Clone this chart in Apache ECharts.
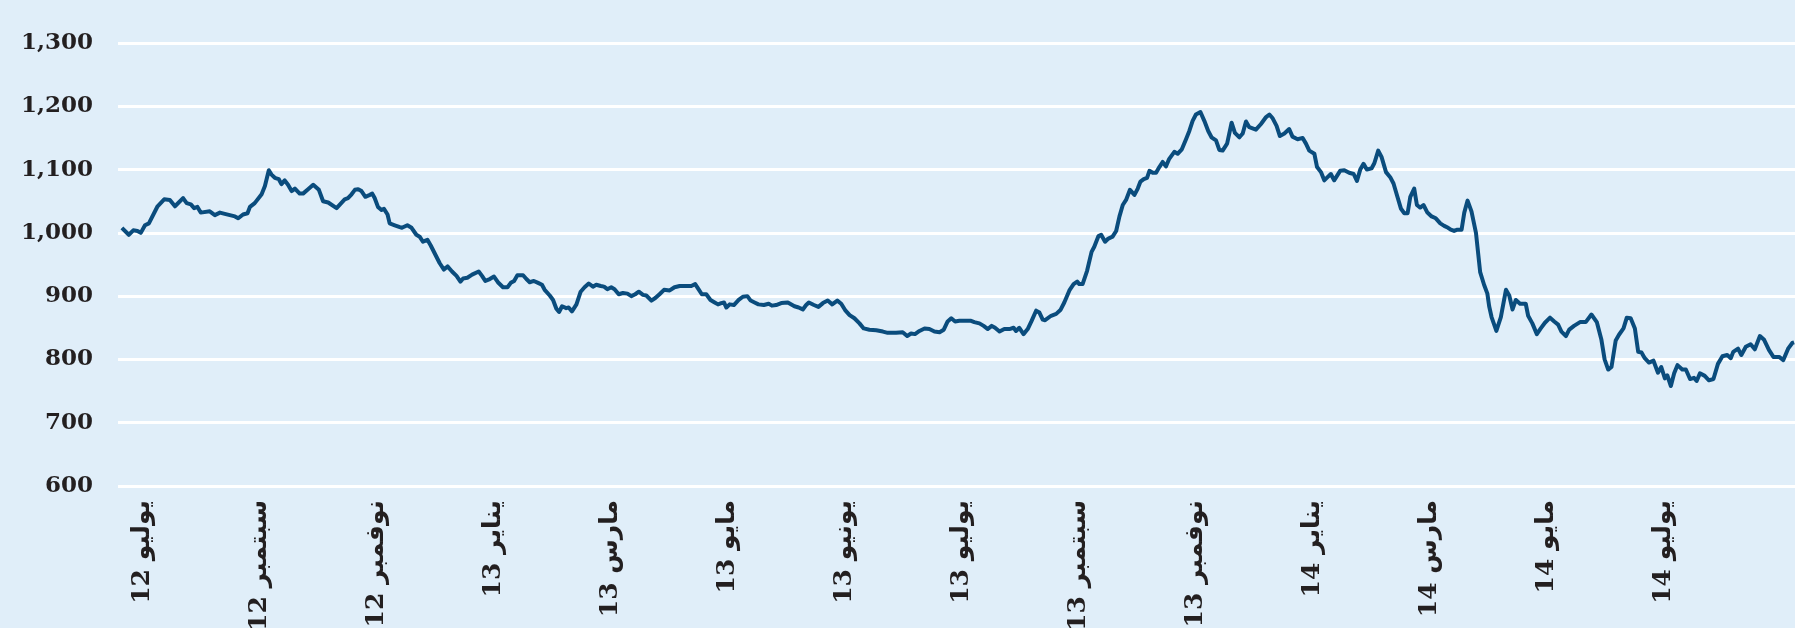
<!DOCTYPE html>
<html lang="ar">
  <head>
    <meta charset="UTF-8" />
    <title>المؤشر</title>
    <script src="https://cdn.jsdelivr.net/npm/echarts@6/dist/echarts.min.js"></script>
    <style>
      html, body { margin: 0; padding: 0; background: #e0eef9; }
    </style>
  </head>
  <body>
    <div id="main" style="width: 1795px; height: 628px"></div>
    <script>
      // trading-day index, index level
      var points = [
        [0,1008],[2.3,997],[3.8,1004],[5.2,1003],[6.3,1000],[7.7,1012],[9.0,1015],[11.9,1042],[14.1,1053],[16.0,1052],
        [17.7,1042],[20.4,1055],[21.6,1047],[23.0,1045],[24.1,1039],[25.2,1041],[26.3,1032],[29.3,1034],[31.0,1028],[32.7,1032],
        [34.3,1030],[36.0,1028],[37.7,1026],[38.8,1023],[40.4,1029],[41.9,1031],[42.7,1041],[44.3,1047],[46.6,1061],[47.7,1074],
        [49.0,1099],[49.9,1092],[51.0,1087],[52.3,1085],[53.2,1077],[54.3,1083],[55.4,1076],[56.6,1066],[57.7,1070],[59.3,1062],
        [60.4,1062],[62.1,1069],[63.8,1076],[65.7,1068],[67.1,1050],[68.8,1048],[71.6,1039],[74.3,1053],[75.4,1055],[76.6,1061],
        [77.7,1068],[78.8,1069],[79.9,1066],[81.2,1057],[82.7,1060],[83.5,1062],[84.3,1055],[85.4,1041],[86.6,1036],[87.4,1038],
        [88.6,1029],[89.3,1015],[91.0,1012],[92.7,1009],
        [93.4,1008],[95.2,1012],[96.6,1008],[98.2,997],[99.3,994],[100.4,986],[101.9,989],[103.0,980],[104.6,965],[106.0,952],
        [107.4,942],[108.6,947],[110.1,939],[111.6,932],[112.9,923],[113.8,928],[115.2,929],[116.8,934],[119.0,939],[120.1,932],
        [121.2,924],[122.7,927],[124.1,931],[125.4,922],[127.1,914],[128.6,914],[129.7,921],[130.8,924],[131.9,933],[133.8,933],
        [134.9,927],[136.0,922],[137.4,924],[138.8,921],[140.1,918],[141.0,910],[142.7,901],[143.8,894],[144.9,880],[145.8,875],
        [146.8,884],[148.2,881],[149.0,882],[150.1,876],[151.6,887],[153.0,907],[154.3,914],[155.7,920],[157.1,915],[158.2,918],
        [159.7,916],[160.8,915],[161.9,911],[163.2,914],[164.3,911],[165.7,903],[167.1,905],[168.6,904],[169.9,900],[171.2,903],
        [172.4,907],[173.8,902],[174.9,901],[176.6,893],[177.9,897],[179.3,903],[180.8,910],[182.7,909],[184.3,914],[186.0,916],
        [187.7,916],[189.9,916],[191.2,919],[192.3,911],[193.4,903],[194.9,903],[196.3,894],[197.7,890],[198.8,887],[199.9,889],
        [200.8,890],[201.6,882],[202.7,887],[204.1,886],[205.7,894],[207.1,899],[208.6,900],[209.7,893],[211.0,890],[212.3,887],
        [214.1,886],[215.7,888],[216.8,885],[218.2,886],[219.9,889],[222.1,890],[224.3,884],[225.7,882],[227.1,879],[228.2,886],
        [229.1,890],[230.8,886],[232.3,883],[233.8,889],[235.4,893],[236.9,887],[238.6,893],[239.9,888],[241.2,878],[242.7,870],
        [244.3,865],[246.0,857],[247.4,849],[249.3,847],[251.6,846],[253.8,844],[255.4,842],[258.2,842],[260.4,843],[261.9,837],
        [263.2,841],[264.5,840],[266.0,845],[267.7,849],[269.3,848],[271.0,844],[272.7,843],[274.1,847],[275.4,860],[276.6,865],
        [277.9,860],[279.3,861],
        [281.0,861],[283.2,861],[284.3,859],[286.0,857],[287.4,853],[288.8,848],[290.1,853],[291.2,850],[292.7,844],[294.3,848],
        [296.0,848],[297.4,850],[298.2,845],[299.3,850],[300.7,840],[302.1,848],[303.4,861],[304.9,877],[306.0,874],[307.1,863],
        [307.9,862],[309.9,869],[311.6,872],[313.0,878],[314.3,890],[316.0,909],[317.4,919],[318.6,923],[319.3,919],[320.4,919],
        [321.9,940],[323.4,970],[324.3,978],[325.7,995],[326.6,997],[327.9,986],[329.0,991],[330.4,994],[331.6,1003],[332.7,1026],
        [333.8,1044],[334.9,1052],[336.2,1068],[337.7,1060],[338.8,1070],[339.7,1081],[340.8,1085],[341.9,1087],[342.7,1098],[343.8,1095],
        [344.9,1095],[346.0,1104],[347.1,1112],[348.2,1105],[349.3,1117],[351.0,1128],[352.1,1125],[353.5,1132],[354.9,1148],[356.0,1161],
        [357.1,1177],[358.2,1187],[359.7,1191],[361.0,1177],[362.3,1161],[363.4,1151],[364.9,1146],[366.0,1131],[367.1,1130],[368.6,1141],
        [370.1,1174],[371.2,1158],[372.7,1151],
        [373.8,1157],[374.9,1176],[376.0,1167],[378.2,1163],[379.9,1172],[381.6,1183],[382.7,1187],[383.8,1181],[385.1,1169],[386.2,1153],
        [387.7,1157],[389.3,1164],[390.4,1152],[392.1,1148],[393.8,1150],[394.9,1141],[396.0,1130],[397.7,1125],[398.6,1104],[399.9,1096],
        [401.0,1083],[402.1,1088],[403.2,1093],[404.3,1083],[406.3,1098],[407.7,1099],[409.3,1095],[410.8,1093],[411.9,1082],[413.0,1100],
        [414.1,1109],[415.2,1100],[416.8,1102],[417.7,1110],[419.0,1130],[420.1,1120],[421.6,1096],[423.0,1088],[424.1,1078],[425.4,1057],
        [426.6,1038],[427.7,1031],[428.8,1031],[429.7,1057],[431.0,1070],[431.9,1044],[433.0,1040],[434.1,1044],[435.4,1032],[436.8,1026],
        [438.2,1023],[439.7,1015],[441.0,1011],[442.3,1008],[443.2,1005],[444.3,1003],[445.4,1005],[446.8,1005],[447.7,1032],[448.8,1051],
        [450.1,1034],[451.6,1000],[453.0,938],[454.3,918],[455.4,904],[456.0,884],[456.8,867],[458.4,845],[459.9,867],[461.6,910],
        [462.7,901],[463.8,879],[464.9,894],
        [466.3,888],[468.2,888],[469.0,869],[470.4,857],[471.9,840],[473.2,849],[474.6,858],[476.3,866],[477.7,860],[479.0,855],
        [480.1,844],[481.6,837],[482.7,847],[484.3,853],[486.3,859],[488.2,859],[490.1,871],[491.9,859],[493.4,832],[494.5,800],
        [495.7,784],[496.8,788],[498.2,830],[499.3,839],[500.8,849],[501.9,866],[503.2,865],[504.6,849],[505.7,812],[506.8,811],
        [507.9,802],[509.3,795],[510.8,798],[512.3,779],[513.4,788],[514.6,770],[515.4,775],[516.6,758],[517.7,778],[518.8,791],
        [520.4,784],[521.6,784],[523.0,769],[524.3,771],[525.2,766],[526.3,778],[527.9,774],[529.3,767],[530.8,769],[532.3,793],
        [533.8,805],[535.4,807],[536.6,802],[537.4,812],[539.0,817],[540.1,807],[541.6,820],[543.2,824],[544.6,816],[546.3,837],
        [547.7,831],[549.3,815],[550.8,804],[552.7,804],[554.1,799],[555.7,817],[557.1,826],[557.7,827]
      ];

      // month labels on the x axis and where they sit (trading-day index)
      var labelDays = [7, 46, 85, 124, 163, 202, 241, 280, 319, 358, 397, 436, 475, 514];
      var labelMonths = ["يوليو", "سبتمبر", "نوفمبر", "يناير", "مارس", "مايو", "يونيو", "يوليو", "سبتمبر", "نوفمبر", "يناير", "مارس", "مايو", "يوليو"];
      var labelYears = ["12", "12", "12", "13", "13", "13", "13", "13", "13", "13", "14", "14", "14", "14"];

      var myChart = echarts.init(document.getElementById("main"));
      var option = {
        backgroundColor: "#e0eef9",
        animation: false,
        grid: { left: 118, right: 0, top: 43, bottom: 142, containLabel: false, outerBoundsMode: "none" },
        xAxis: {
          type: "value",
          min: -1.3,
          max: 558,
          splitLine: { show: false },
          axisLine: { show: false },
          axisTick: { show: false },
          axisLabel: {
            customValues: labelDays,
            rotate: 90,
            margin: 14,
            color: "#231f20",
            fontSize: 25,
            fontWeight: "bold",
            fontFamily: "DejaVu Serif, DejaVu Sans",
            formatter: function (val) {
              var i = labelDays.indexOf(val);
              // number first so it lands at the bottom once rotated
              return labelYears[i] + " " + labelMonths[i];
            },
          },
        },
        yAxis: {
          type: "value",
          min: 600,
          max: 1300,
          interval: 100,
          axisLine: { show: false },
          axisTick: { show: false },
          splitLine: { show: true, lineStyle: { color: "#ffffff", width: 3 } },
          axisLabel: {
            margin: 25,
            color: "#231f20",
            fontSize: 23,
            fontWeight: "bold",
            fontFamily: "DejaVu Serif",
            verticalAlign: "middle",
            padding: [0, 0, 13, 0],
          },
        },
        series: [
          {
            type: "line",
            data: points,
            showSymbol: false,
            lineStyle: { color: "#0a4c7d", width: 4, join: "round" },
          },
        ],
      };
      myChart.setOption(option);
    </script>
  </body>
</html>
